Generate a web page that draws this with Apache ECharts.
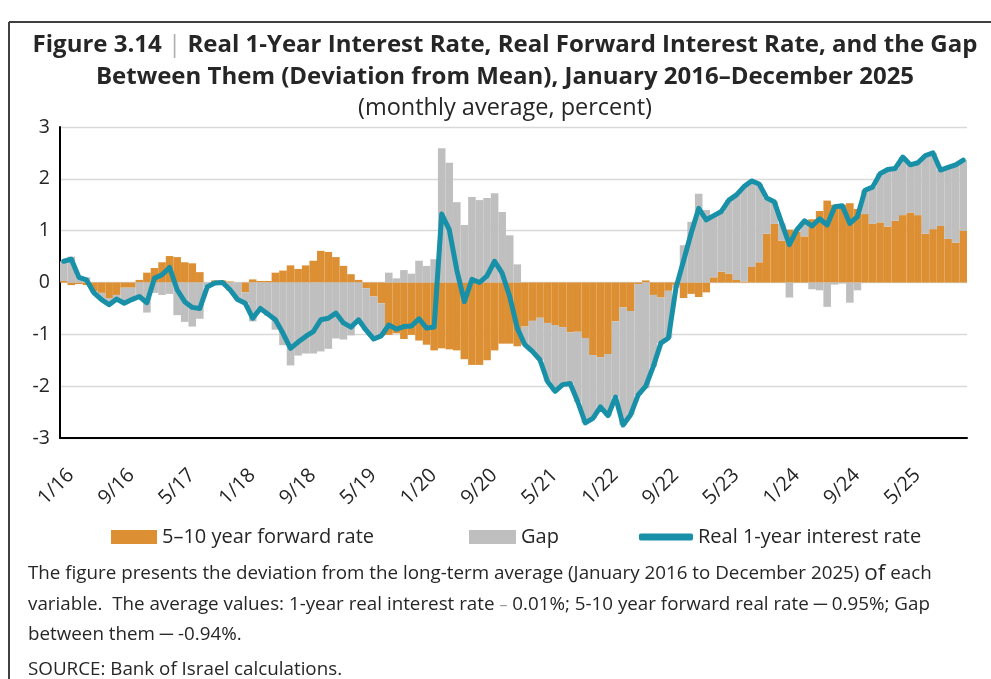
<!DOCTYPE html>
<html>
<head>
<meta charset="utf-8">
<script src="https://cdn.jsdelivr.net/npm/echarts@6/dist/echarts.min.js"></script>
<style>
  html, body { margin: 0; padding: 0; background: #fff; }
  #chart { width: 991px; height: 679px; }
</style>
</head>
<body>
<div id="chart"></div>
<script>
// monthly, January 2016 - December 2025 (deviation from mean, percent)
var years = [2016, 2017, 2018, 2019, 2020, 2021, 2022, 2023, 2024, 2025];

var realRate = [
  0.41, 0.45, 0.10, 0.05, -0.20, -0.33, -0.43, -0.32, -0.40, -0.33, -0.27, -0.39,
  0.08, 0.15, 0.29, -0.14, -0.37, -0.48, -0.50, -0.08, -0.01, 0.00, -0.14, -0.33,
  -0.40, -0.69, -0.50, -0.61, -0.72, -0.98, -1.27, -1.15, -1.04, -0.95, -0.72, -0.69,
  -0.59, -0.78, -0.86, -0.72, -0.92, -1.09, -1.03, -0.82, -0.90, -0.85, -0.84, -0.70,
  -0.88, -0.86, 1.32, 1.02, 0.24, -0.37, 0.06, 0.00, 0.13, 0.41, 0.18, -0.27,
  -0.88, -1.20, -1.33, -1.49, -1.91, -2.10, -1.97, -1.95, -2.30, -2.71, -2.62, -2.40,
  -2.57, -2.21, -2.75, -2.55, -2.17, -2.00, -1.62, -1.17, -1.07, -0.10, 0.42, 0.95,
  1.43, 1.21, 1.29, 1.37, 1.59, 1.69, 1.85, 1.96, 1.90, 1.63, 1.56, 1.14,
  0.73, 1.02, 1.19, 1.09, 1.23, 1.11, 1.46, 1.48, 1.14, 1.27, 1.78, 1.84,
  2.10, 2.18, 2.20, 2.42, 2.27, 2.31, 2.45, 2.50, 2.17, 2.22, 2.27, 2.36
];

var forwardRate = [
  0.03, -0.05, -0.03, -0.05, -0.17, -0.20, -0.30, -0.24, -0.10, -0.10, 0.05, 0.19,
  0.28, 0.39, 0.51, 0.49, 0.39, 0.37, 0.20, 0.00, 0.04, 0.04, 0.02, 0.00,
  -0.19, 0.06, 0.03, 0.03, 0.19, 0.23, 0.33, 0.26, 0.33, 0.42, 0.61, 0.59,
  0.49, 0.32, 0.16, 0.05, -0.11, -0.27, -0.40, -1.01, -0.98, -1.09, -1.01, -1.12,
  -1.20, -1.31, -1.27, -1.29, -1.31, -1.48, -1.59, -1.59, -1.50, -1.31, -1.18, -1.18,
  -1.23, -0.85, -0.74, -0.68, -0.78, -0.82, -0.86, -0.96, -0.95, -1.07, -1.40, -1.44,
  -1.38, -0.75, -0.48, -0.55, -0.03, 0.04, -0.24, -0.29, -0.16, -0.05, -0.30, -0.22,
  -0.28, -0.19, 0.10, 0.21, 0.17, 0.05, 0.02, 0.30, 0.39, 0.94, 1.13, 0.81,
  1.02, 0.98, 0.89, 1.22, 1.38, 1.58, 1.50, 1.50, 1.53, 1.42, 1.32, 1.13,
  1.16, 1.08, 1.19, 1.30, 1.35, 1.30, 0.94, 1.03, 1.09, 0.84, 0.77, 1.00
];

var gap = [
  0.38, 0.50, 0.13, 0.10, -0.03, -0.13, -0.13, -0.08, -0.30, -0.23, -0.32, -0.58,
  -0.20, -0.24, -0.22, -0.63, -0.76, -0.85, -0.70, -0.08, -0.05, -0.04, -0.16, -0.33,
  -0.21, -0.75, -0.53, -0.64, -0.91, -1.21, -1.60, -1.41, -1.37, -1.37, -1.33, -1.28,
  -1.08, -1.10, -1.02, -0.77, -0.81, -0.82, -0.63, 0.19, 0.08, 0.24, 0.17, 0.42,
  0.32, 0.45, 2.59, 2.31, 1.55, 1.11, 1.65, 1.59, 1.63, 1.72, 1.36, 0.91,
  0.35, -0.35, -0.59, -0.81, -1.13, -1.28, -1.11, -0.99, -1.35, -1.64, -1.22, -0.96,
  -1.19, -1.46, -2.27, -2.00, -2.14, -2.04, -1.38, -0.88, -0.91, -0.05, 0.72, 1.17,
  1.71, 1.40, 1.19, 1.16, 1.42, 1.64, 1.83, 1.66, 1.51, 0.69, 0.43, 0.33,
  -0.29, 0.04, 0.30, -0.13, -0.15, -0.47, -0.04, -0.02, -0.39, -0.15, 0.46, 0.71,
  0.94, 1.10, 1.01, 1.12, 0.92, 1.01, 1.51, 1.47, 1.08, 1.38, 1.50, 1.36
];

var yTicks = { min: -3, max: 3, step: 1 };

var months = [];
years.forEach(function (y) {
  for (var m = 1; m <= 12; m++) months.push(m + '/' + String(y).slice(2));
});

var FONT = '"Open Sans", "Noto Sans", sans-serif';
var INK = '#262626';

var chart = echarts.init(document.getElementById('chart'), null, { renderer: 'canvas' });

var legendText = { fontFamily: FONT, fontSize: 20, color: INK, lineHeight: 24 };

var option = {
  backgroundColor: '#fff',
  animation: false,
  grid: { left: 60, right: 24, top: 127, bottom: 241 },
  legend: [
    { data: ['5–10 year forward rate'], left: 106, top: 520, icon: 'rect', itemWidth: 46, itemHeight: 14, textStyle: legendText },
    { data: ['Gap'], left: 464, top: 520, icon: 'rect', itemWidth: 47, itemHeight: 14, textStyle: legendText },
    { data: ['Real 1-year interest rate'], left: 634, top: 520, icon: 'roundRect', itemWidth: 54, itemHeight: 7, textStyle: legendText }
  ],
  xAxis: {
    type: 'category',
    data: months,
    axisLine: { onZero: false, lineStyle: { color: '#000', width: 2 } },
    axisTick: { show: false },
    axisLabel: {
      interval: 7, rotate: 45, margin: 27, verticalAlign: 'top',
      fontSize: 20, color: INK, fontFamily: FONT
    }
  },
  yAxis: {
    type: 'value',
    min: yTicks.min,
    max: yTicks.max,
    interval: yTicks.step,
    axisLine: { show: true, lineStyle: { color: '#000', width: 2 } },
    axisTick: { show: false },
    axisLabel: { fontSize: 19.5, color: INK, fontFamily: FONT, margin: 10 },
    splitLine: { lineStyle: { color: '#d9d9d9', width: 1.3 } }
  },
  series: [
    {
      name: '5–10 year forward rate',
      type: 'bar',
      stack: 'total',
      data: forwardRate,
      barCategoryGap: '0%',
      itemStyle: { color: '#dc8f33' }
    },
    {
      name: 'Gap',
      type: 'bar',
      stack: 'total',
      data: gap,
      barCategoryGap: '0%',
      itemStyle: { color: '#bfbfbf' }
    },
    {
      name: 'Real 1-year interest rate',
      type: 'line',
      data: realRate,
      symbol: 'none',
      z: 5,
      itemStyle: { color: '#1790a8' },
      lineStyle: { color: '#1790a8', width: 5, cap: 'round', join: 'round' }
    }
  ],
  graphic: [
    // frame
    { type: 'line', shape: { x1: 9, y1: 22, x2: 991, y2: 22 }, style: { stroke: '#404040', lineWidth: 2 } },
    { type: 'line', shape: { x1: 9, y1: 22, x2: 9, y2: 679 }, style: { stroke: '#404040', lineWidth: 2 } },
    // title
    {
      type: 'text', x: 505, y: 45,
      style: {
        text: '{b|Figure 3.14 }{s|| }{b|Real 1-Year Interest Rate, Real Forward Interest Rate, and the Gap}',
        align: 'center', verticalAlign: 'middle',
        rich: {
          b: { fontFamily: FONT, fontWeight: 'bold', fontSize: 24, fill: INK },
          s: { fontFamily: FONT, fontSize: 24, fill: '#b0b0b0' }
        }
      }
    },
    {
      type: 'text', x: 505, y: 77,
      style: {
        text: 'Between Them (Deviation from Mean), January 2016–December 2025',
        align: 'center', verticalAlign: 'middle',
        fontFamily: FONT, fontWeight: 'bold', fontSize: 24, fill: INK
      }
    },
    {
      type: 'text', x: 505, y: 108,
      style: {
        text: '(monthly average, percent)',
        align: 'center', verticalAlign: 'middle',
        fontFamily: FONT, fontSize: 23.5, fill: INK
      }
    },
    // note
    {
      type: 'text', x: 28, y: 574,
      style: {
        text: 'The figure presents the deviation from the long-term average (January 2016 to December 2025) {big|of} each',
        verticalAlign: 'middle', fontFamily: FONT, fontSize: 18.8, fill: INK,
        rich: { big: { fontFamily: FONT, fontSize: 22.5, fill: INK } }
      }
    },
    {
      type: 'text', x: 28, y: 605,
      style: {
        text: 'variable.  The average values: 1-year real interest rate {g|–} 0.01%; 5-10 year forward real rate ─ 0.95%; Gap',
        verticalAlign: 'middle', fontFamily: FONT, fontSize: 18.8, fill: INK,
        rich: { g: { fontFamily: FONT, fontSize: 16, fill: '#999' } }
      }
    },
    {
      type: 'text', x: 28, y: 635,
      style: {
        text: 'between them ─ -0.94%.',
        verticalAlign: 'middle', fontFamily: FONT, fontSize: 18.8, fill: INK
      }
    },
    {
      type: 'text', x: 28, y: 670,
      style: {
        text: 'SOURCE: Bank of Israel calculations.',
        verticalAlign: 'middle', fontFamily: FONT, fontSize: 18.8, fill: INK
      }
    }
  ]
};

chart.setOption(option);
</script>
</body>
</html>
